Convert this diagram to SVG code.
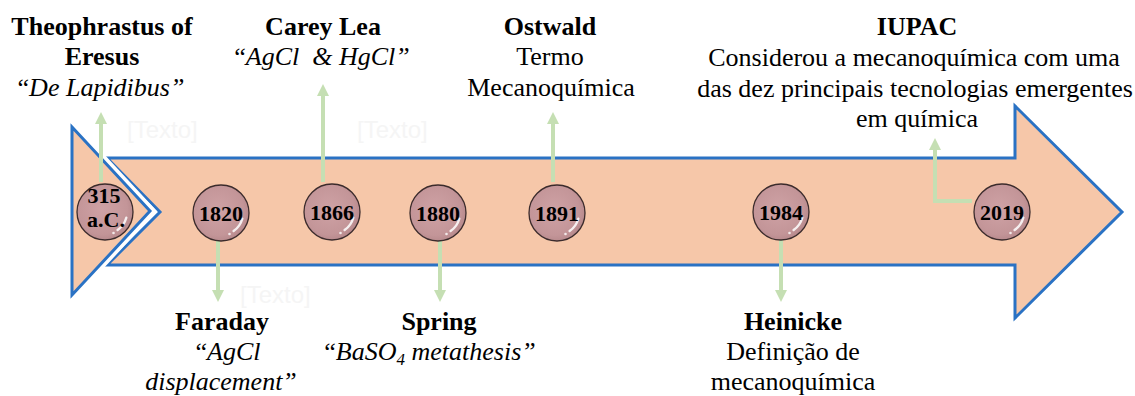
<svg xmlns="http://www.w3.org/2000/svg" xmlns:xlink="http://www.w3.org/1999/xlink" width="1135" height="396" viewBox="0 0 1135 396">
  <style>
    .t { font-family: "Liberation Serif", "Times New Roman", "DejaVu Serif", serif; font-size: 26px; fill: #000; text-anchor: middle; }
    .b { font-weight: bold; }
    .i { font-style: italic; }
    .yr { font-family: "Liberation Serif", "Times New Roman", "DejaVu Serif", serif; font-size: 22px; font-weight: bold; fill: #000; text-anchor: middle; }
    .ph { font-family: "Liberation Sans", Arial, sans-serif; font-size: 24px; fill: #f5f5f5; }
    .band { fill: #f6c7a9; stroke: #2a72c4; stroke-width: 3; stroke-linejoin: miter; }
    .conn { fill: none; stroke: #c5dfb3; stroke-width: 4; marker-end: url(#head); }
  </style>
  <defs>
    <radialGradient id="ballFill" cx="0.45" cy="0.45" r="0.6">
      <stop offset="0" stop-color="#cfa2a5"/>
      <stop offset="0.75" stop-color="#c39598"/>
      <stop offset="1" stop-color="#b38588"/>
    </radialGradient>
    <marker id="head" viewBox="0 -6 12 12" refX="2" refY="0" markerWidth="12" markerHeight="12" markerUnits="userSpaceOnUse" orient="auto">
      <path d="M0,-6 L12,0 L0,6 Z" fill="#c5dfb3"/>
    </marker>
    <!-- glossy ball used for every date -->
    <g id="ball">
      <circle r="28" fill="url(#ballFill)" stroke="#3b2b2c" stroke-width="1.3"/>
      <path d="M21.3,5.7 A22,22 0 0 1 12.6,18.0" fill="none" stroke="#fff" stroke-width="2.4" stroke-linecap="round" opacity="0.85"/>
      <circle cx="8.5" cy="21" r="1.3" fill="#fff" opacity="0.8"/>
    </g>
  </defs>

  <!-- timeline band -->
  <g id="band">
    <path class="band" d="M107,158 L1015,158 L1015,106 L1122,212 L1015,318 L1015,265 L107,265 L160,212 Z"/>
    <path d="M72,127 L150,211 L72,295 Z" fill="none" stroke="#fff" stroke-width="10" stroke-linejoin="miter"/>
    <path class="band" d="M72,127 L150,211 L72,295 Z"/>
  </g>

  <!-- placeholder text boxes -->
  <g id="placeholders">
    <text class="ph" x="127" y="138">[Texto]</text>
    <text class="ph" x="357" y="138">[Texto]</text>
    <text class="ph" x="240" y="303">[Texto]</text>
  </g>

  <!-- connectors -->
  <g id="connectors">
    <line class="conn" x1="101" y1="182" x2="101" y2="122"/>
    <line class="conn" x1="218" y1="240" x2="218" y2="292"/>
    <line class="conn" x1="323" y1="182" x2="323" y2="94"/>
    <line class="conn" x1="440" y1="240" x2="440" y2="292"/>
    <line class="conn" x1="553" y1="182" x2="553" y2="122"/>
    <line class="conn" x1="781" y1="240" x2="781" y2="292"/>
    <polyline class="conn" points="972,201 935,201 935,148"/>
  </g>

  <!-- events -->
  <g id="n315">
    <use xlink:href="#ball" x="105" y="212"/>
    <text class="yr" x="104" y="203">315</text>
    <text class="yr" x="106" y="227">a.C.</text>
    <text class="t b" x="102" y="35">Theophrastus of</text>
    <text class="t b" x="102" y="65">Eresus</text>
    <text class="t" x="101" y="96">“<tspan class="i">De Lapidibus”</tspan></text>
  </g>

  <g id="n1820">
    <use xlink:href="#ball" x="221" y="213"/>
    <text class="yr" x="221" y="221">1820</text>
    <text class="t b" x="222" y="330">Faraday</text>
    <text class="t" x="228" y="360">“<tspan class="i">AgCl</tspan></text>
    <text class="t i" x="221" y="390">displacement”</text>
  </g>

  <g id="n1866">
    <use xlink:href="#ball" x="332" y="212"/>
    <text class="yr" x="332" y="220">1866</text>
    <text class="t b" x="323" y="35">Carey Lea</text>
    <text class="t" x="322" y="65">“<tspan class="i">AgCl&#160; &amp; HgCl”</tspan></text>
  </g>

  <g id="n1880">
    <use xlink:href="#ball" x="438" y="213"/>
    <text class="yr" x="438" y="221">1880</text>
    <text class="t b" x="439" y="330">Spring</text>
    <text class="t" x="430" y="360">“<tspan class="i">BaSO<tspan font-size="17" dy="5">4</tspan><tspan dy="-5"> metathesis”</tspan></tspan></text>
  </g>

  <g id="n1891">
    <use xlink:href="#ball" x="557" y="213"/>
    <text class="yr" x="557" y="221">1891</text>
    <text class="t b" x="550" y="35">Ostwald</text>
    <text class="t" x="550" y="65">Termo</text>
    <text class="t" x="551" y="96">Mecanoquímica</text>
  </g>

  <g id="n1984">
    <use xlink:href="#ball" x="781" y="212"/>
    <text class="yr" x="781" y="220">1984</text>
    <text class="t b" x="793" y="330">Heinicke</text>
    <text class="t" x="793" y="360">Definição de</text>
    <text class="t" x="793" y="390">mecanoquímica</text>
  </g>

  <g id="n2019">
    <use xlink:href="#ball" x="1002" y="212"/>
    <text class="yr" x="1002" y="220">2019</text>
    <text class="t b" x="917" y="35">IUPAC</text>
    <text class="t" x="914" y="66">Considerou a mecanoquímica com uma</text>
    <text class="t" x="915" y="97">das dez principais tecnologias emergentes</text>
    <text class="t" x="917" y="127">em química</text>
  </g>
</svg>
